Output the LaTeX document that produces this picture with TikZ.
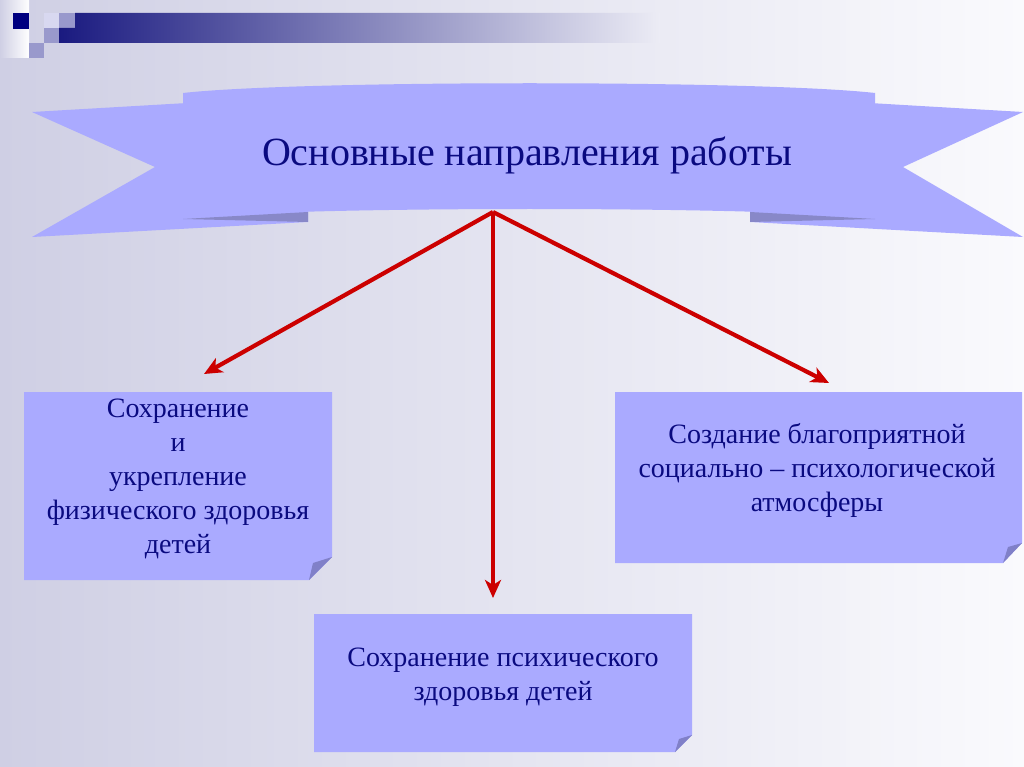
\documentclass[tikz,border=0pt]{standalone}
\usepackage{fontspec}
\setmainfont{Liberation Serif}
\usetikzlibrary{arrows.meta}
\definecolor{ribbon}{RGB}{170,170,255}
\definecolor{fold}{RGB}{136,136,200}
\definecolor{curl}{RGB}{128,128,200}
\definecolor{navytext}{RGB}{10,10,128}
\definecolor{arrowred}{RGB}{204,0,0}
\definecolor{bgleft}{RGB}{207,207,228}
\definecolor{bgright}{RGB}{250,250,253}
\definecolor{decodark}{RGB}{0,0,128}
\definecolor{bardark}{RGB}{26,26,128}
\definecolor{barend}{RGB}{236,236,245}
\definecolor{decomid}{RGB}{153,153,204}
\definecolor{decolight}{RGB}{216,216,240}
\begin{document}
\begin{tikzpicture}[x=1pt,y=-1pt,
  boxtext/.style={text=navytext, align=center, font=\fontsize{28}{34}\selectfont},
  titletext/.style={text=navytext, font=\fontsize{40}{48}\selectfont},
  link/.style={draw=arrowred, line width=4.2pt, -{Stealth[length=18pt,width=16pt,inset=5pt]}},
  paper/.style={fill=ribbon},
  curlfold/.style={fill=curl},
]
\useasboundingbox (0,0) rectangle (1024,767);
\shade[left color=bgleft, right color=bgright] (0,0) rectangle (1024,767);
% top-left decoration
\shade[left color=bgleft, right color=white] (0,0) rectangle (29,58);
\fill[decodark] (13,13) rectangle (29,29);
\fill[decolight] (44,13) rectangle (59,28);
\fill[decomid] (59,13) rectangle (75,28);
\fill[decomid] (44,28) rectangle (59,43);
\fill[decomid] (29,43) rectangle (44,58);
\shade[left color=bardark, right color=barend] (75,13) -- (660,13) -- (660,43) -- (59,43) -- (59,28) -- (75,28) -- cycle;
% ribbon
\fill[paper] (32,112) -- (308,96) -- (308,222) -- (32,237) -- (155,167) -- cycle;
\fill[paper] (1023,112) -- (750,96) -- (750,222) -- (1023,237) -- (903,167) -- cycle;
\fill[fill=fold] (183,219) -- (308,212) -- (308,222) -- cycle;
\fill[fill=fold] (875,219) -- (750,212) -- (750,222) -- cycle;
\fill[paper] (183,93) .. controls (300,80) and (760,80) .. (875,93) -- (875,218) .. controls (760,206) and (300,206) .. (183,218) -- cycle;
\node[titletext] (title) at (527,155) {Основные направления работы};
% boxes
\fill[paper] (24,392) -- (332,392) -- (332,557) -- (309,580) -- (24,580) -- cycle;
\fill[curlfold] (332,557) -- (309,580) -- (313,563) -- cycle;
\node[boxtext] (left) at (178,479) {Сохранение\\и\\укрепление\\физического здоровья\\детей};
\fill[paper] (615,392) -- (1022,392) -- (1022,543) -- (1003,563) -- (615,563) -- cycle;
\fill[curlfold] (1022,543) -- (1003,563) -- (1008,547) -- cycle;
\node[boxtext] (right) at (817,470) {Создание благоприятной\\социально – психологической\\атмосферы};
\fill[paper] (314,614) -- (692,614) -- (692,735) -- (675,752) -- (314,752) -- cycle;
\fill[curlfold] (692,735) -- (675,752) -- (679,739) -- cycle;
\node[boxtext] (bottom) at (503,677) {Сохранение психического\\здоровья детей};
% arrows
\coordinate (apex) at (493,212);
\coordinate (tipL) at (204,374);
\coordinate (tipC) at (493,598);
\coordinate (tipR) at (829,383);
\draw[link] (apex) -- (tipL);
\draw[link] (apex) -- (tipC);
\draw[link] (apex) -- (tipR);
\end{tikzpicture}
\end{document}
